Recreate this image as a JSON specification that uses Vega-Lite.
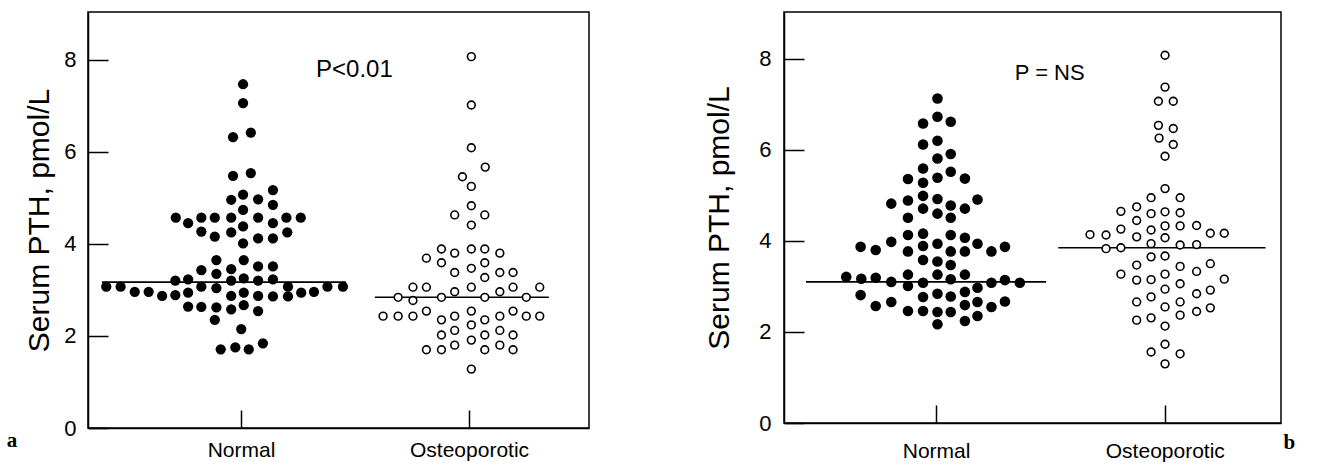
{
  "$schema": "https://vega.github.io/schema/vega-lite/v6.json",
  "background": "white",
  "padding": {"left": 6, "top": 11, "right": 0, "bottom": 0},
  "bounds": "flush",
  "spacing": 195,
  "config": {
    "font": "Liberation Sans",
    "view": {"stroke": "black", "strokeWidth": 1.5},
    "axis": {
      "grid": false,
      "domainColor": "black",
      "domainWidth": 1.5,
      "tickColor": "black",
      "tickWidth": 1.5,
      "labelColor": "black",
      "labelFont": "Liberation Sans",
      "labelFontSize": 22,
      "titleColor": "black",
      "titleFont": "Liberation Sans",
      "titleFontWeight": "normal",
      "titleFontSize": 30
    }
  },
  "datasets": {
    "aN": [
      {"pos":1.009,"pth":7.47},{"pos":1.009,"pth":7.06},{"pos":0.965,"pth":6.32},{"pos":1.043,"pth":6.42},
      {"pos":0.965,"pth":5.48},{"pos":1.043,"pth":5.54},{"pos":1.140,"pth":5.17},{"pos":1.009,"pth":5.07},
      {"pos":0.957,"pth":4.96},{"pos":1.075,"pth":4.97},{"pos":1.140,"pth":4.85},{"pos":1.009,"pth":4.74},
      {"pos":0.714,"pth":4.57},{"pos":0.768,"pth":4.45},{"pos":0.826,"pth":4.57},{"pos":0.885,"pth":4.57},
      {"pos":0.957,"pth":4.57},{"pos":1.075,"pth":4.57},{"pos":1.140,"pth":4.45},{"pos":1.199,"pth":4.57},
      {"pos":1.262,"pth":4.57},{"pos":1.009,"pth":4.38},{"pos":0.826,"pth":4.27},{"pos":0.885,"pth":4.16},
      {"pos":0.957,"pth":4.25},{"pos":1.075,"pth":4.12},{"pos":1.140,"pth":4.12},{"pos":1.203,"pth":4.25},
      {"pos":1.009,"pth":4.01},{"pos":0.892,"pth":3.65},{"pos":1.012,"pth":3.65},{"pos":0.826,"pth":3.43},
      {"pos":0.957,"pth":3.45},{"pos":1.075,"pth":3.51},{"pos":1.140,"pth":3.51},{"pos":0.892,"pth":3.35},
      {"pos":0.712,"pth":3.20},{"pos":0.768,"pth":3.23},{"pos":0.957,"pth":3.20},{"pos":1.012,"pth":3.25},
      {"pos":1.075,"pth":3.20},{"pos":1.140,"pth":3.23},{"pos":0.409,"pth":3.07},{"pos":0.472,"pth":3.07},
      {"pos":0.534,"pth":2.96},{"pos":0.595,"pth":2.96},{"pos":0.654,"pth":2.87},{"pos":0.712,"pth":2.89},
      {"pos":0.768,"pth":2.94},{"pos":0.826,"pth":3.07},{"pos":0.892,"pth":3.04},{"pos":1.206,"pth":3.07},
      {"pos":1.264,"pth":2.94},{"pos":1.320,"pth":2.96},{"pos":1.379,"pth":3.07},{"pos":1.447,"pth":3.07},
      {"pos":0.957,"pth":2.87},{"pos":1.012,"pth":2.94},{"pos":1.075,"pth":2.87},{"pos":1.140,"pth":2.86},
      {"pos":1.206,"pth":2.86},{"pos":0.768,"pth":2.64},{"pos":0.826,"pth":2.63},{"pos":0.892,"pth":2.62},
      {"pos":0.957,"pth":2.58},{"pos":1.012,"pth":2.67},{"pos":1.075,"pth":2.54},{"pos":0.885,"pth":2.35},
      {"pos":1.001,"pth":2.15},{"pos":0.911,"pth":1.71},{"pos":0.975,"pth":1.75},{"pos":1.034,"pth":1.71},
      {"pos":1.096,"pth":1.84}
    ],
    "aO": [
      {"pos":2.010,"pth":8.07},{"pos":2.010,"pth":7.02},{"pos":2.010,"pth":6.09},{"pos":2.071,"pth":5.67},
      {"pos":1.971,"pth":5.46},{"pos":2.010,"pth":5.25},{"pos":2.010,"pth":4.83},{"pos":1.937,"pth":4.63},
      {"pos":2.069,"pth":4.63},{"pos":2.010,"pth":4.41},{"pos":1.879,"pth":3.89},{"pos":1.937,"pth":3.80},
      {"pos":2.010,"pth":3.89},{"pos":2.069,"pth":3.89},{"pos":2.135,"pth":3.80},{"pos":1.813,"pth":3.69},
      {"pos":1.879,"pth":3.59},{"pos":2.069,"pth":3.59},{"pos":1.937,"pth":3.38},{"pos":2.010,"pth":3.47},
      {"pos":2.069,"pth":3.27},{"pos":2.135,"pth":3.38},{"pos":2.193,"pth":3.38},{"pos":1.754,"pth":3.06},
      {"pos":1.813,"pth":3.06},{"pos":1.937,"pth":2.96},{"pos":2.010,"pth":3.06},{"pos":2.135,"pth":2.96},
      {"pos":2.193,"pth":3.06},{"pos":2.310,"pth":3.06},{"pos":1.689,"pth":2.84},{"pos":1.879,"pth":2.84},
      {"pos":2.069,"pth":2.84},{"pos":2.251,"pth":2.84},{"pos":1.754,"pth":2.77},{"pos":1.623,"pth":2.43},
      {"pos":1.689,"pth":2.43},{"pos":1.754,"pth":2.43},{"pos":1.813,"pth":2.54},{"pos":1.879,"pth":2.35},
      {"pos":1.937,"pth":2.43},{"pos":2.010,"pth":2.54},{"pos":2.069,"pth":2.35},{"pos":2.135,"pth":2.43},
      {"pos":2.193,"pth":2.54},{"pos":2.251,"pth":2.43},{"pos":2.310,"pth":2.43},{"pos":1.879,"pth":2.02},
      {"pos":1.937,"pth":2.12},{"pos":2.010,"pth":2.24},{"pos":2.069,"pth":2.02},{"pos":2.135,"pth":2.12},
      {"pos":2.193,"pth":2.02},{"pos":1.813,"pth":1.70},{"pos":1.879,"pth":1.70},{"pos":1.937,"pth":1.80},
      {"pos":2.010,"pth":1.91},{"pos":2.069,"pth":1.70},{"pos":2.135,"pth":1.80},{"pos":2.193,"pth":1.70},
      {"pos":2.010,"pth":1.28}
    ],
    "aMed": [
      {"pos":0.39,"pos2":1.46,"pth":3.17},
      {"pos":1.587,"pos2":2.35,"pth":2.84}
    ],
    "aTxt": [
      {"pos":1.329,"pth":7.78,"label":"P<0.01"}
    ],
    "aLet": [
      {"pos":-0.004,"pth":-0.41,"label":"a"}
    ],
    "bN": [
      {"pos":1.006,"pth":7.13},{"pos":0.943,"pth":6.58},{"pos":1.006,"pth":6.73},{"pos":1.064,"pth":6.62},
      {"pos":0.943,"pth":6.12},{"pos":1.006,"pth":6.20},{"pos":1.006,"pth":5.81},{"pos":1.064,"pth":5.91},
      {"pos":0.943,"pth":5.59},{"pos":1.064,"pth":5.52},{"pos":0.877,"pth":5.36},{"pos":0.943,"pth":5.28},
      {"pos":1.006,"pth":5.39},{"pos":1.126,"pth":5.37},{"pos":0.804,"pth":4.82},{"pos":0.877,"pth":4.89},
      {"pos":0.943,"pth":4.99},{"pos":1.006,"pth":4.92},{"pos":1.064,"pth":4.78},{"pos":1.126,"pth":4.71},
      {"pos":1.181,"pth":4.91},{"pos":0.943,"pth":4.71},{"pos":0.877,"pth":4.51},{"pos":1.006,"pth":4.60},
      {"pos":1.064,"pth":4.51},{"pos":0.877,"pth":4.13},{"pos":0.943,"pth":4.16},{"pos":1.006,"pth":3.94},
      {"pos":1.064,"pth":4.13},{"pos":1.126,"pth":4.07},{"pos":1.181,"pth":3.94},{"pos":0.804,"pth":3.98},
      {"pos":0.670,"pth":3.87},{"pos":0.736,"pth":3.80},{"pos":1.242,"pth":3.77},{"pos":1.301,"pth":3.87},
      {"pos":0.877,"pth":3.77},{"pos":0.943,"pth":3.89},{"pos":1.064,"pth":3.77},{"pos":1.126,"pth":3.77},
      {"pos":0.943,"pth":3.58},{"pos":1.006,"pth":3.55},{"pos":1.064,"pth":3.47},{"pos":0.877,"pth":3.26},
      {"pos":1.006,"pth":3.26},{"pos":1.126,"pth":3.26},{"pos":0.607,"pth":3.21},{"pos":0.673,"pth":3.17},
      {"pos":0.736,"pth":3.19},{"pos":0.804,"pth":3.10},{"pos":0.943,"pth":3.08},{"pos":1.064,"pth":3.16},
      {"pos":1.242,"pth":3.08},{"pos":1.301,"pth":3.14},{"pos":0.877,"pth":3.01},{"pos":1.181,"pth":2.97},
      {"pos":1.006,"pth":2.84},{"pos":1.126,"pth":2.88},{"pos":0.670,"pth":2.81},{"pos":0.943,"pth":2.77},
      {"pos":1.064,"pth":2.78},{"pos":1.301,"pth":2.67},{"pos":1.181,"pth":2.66},{"pos":0.736,"pth":2.57},
      {"pos":0.804,"pth":2.66},{"pos":1.126,"pth":2.59},{"pos":1.242,"pth":2.55},{"pos":0.877,"pth":2.46},
      {"pos":0.943,"pth":2.46},{"pos":1.006,"pth":2.44},{"pos":1.064,"pth":2.44},{"pos":1.181,"pth":2.35},
      {"pos":1.126,"pth":2.24},{"pos":1.006,"pth":2.17},{"pos":1.366,"pth":3.08}
    ],
    "bO": [
      {"pos":2.001,"pth":8.08},{"pos":2.001,"pth":7.38},{"pos":1.972,"pth":7.07},{"pos":2.037,"pth":7.07},
      {"pos":1.972,"pth":6.54},{"pos":2.037,"pth":6.47},{"pos":1.975,"pth":6.26},{"pos":2.037,"pth":6.12},
      {"pos":2.001,"pth":5.86},{"pos":2.001,"pth":5.15},{"pos":1.940,"pth":4.95},{"pos":2.067,"pth":4.95},
      {"pos":1.808,"pth":4.65},{"pos":1.877,"pth":4.75},{"pos":1.940,"pth":4.60},{"pos":2.001,"pth":4.64},
      {"pos":2.067,"pth":4.62},{"pos":1.877,"pth":4.45},{"pos":2.001,"pth":4.33},{"pos":2.067,"pth":4.33},
      {"pos":2.139,"pth":4.34},{"pos":1.808,"pth":4.26},{"pos":1.940,"pth":4.24},{"pos":1.673,"pth":4.14},
      {"pos":1.743,"pth":4.13},{"pos":1.877,"pth":4.09},{"pos":2.001,"pth":4.07},{"pos":2.199,"pth":4.17},
      {"pos":2.260,"pth":4.17},{"pos":1.940,"pth":3.94},{"pos":2.067,"pth":3.91},{"pos":2.139,"pth":3.92},
      {"pos":1.743,"pth":3.83},{"pos":1.808,"pth":3.85},{"pos":1.940,"pth":3.65},{"pos":2.001,"pth":3.67},
      {"pos":1.877,"pth":3.47},{"pos":2.067,"pth":3.44},{"pos":2.139,"pth":3.33},{"pos":2.199,"pth":3.50},
      {"pos":1.808,"pth":3.27},{"pos":1.877,"pth":3.14},{"pos":1.940,"pth":3.15},{"pos":2.001,"pth":3.27},
      {"pos":2.001,"pth":2.94},{"pos":2.067,"pth":3.06},{"pos":2.139,"pth":2.84},{"pos":2.199,"pth":2.92},
      {"pos":2.260,"pth":3.16},{"pos":1.877,"pth":2.66},{"pos":1.940,"pth":2.77},{"pos":2.001,"pth":2.55},
      {"pos":2.067,"pth":2.66},{"pos":2.139,"pth":2.45},{"pos":2.199,"pth":2.53},{"pos":1.877,"pth":2.26},
      {"pos":1.940,"pth":2.31},{"pos":2.001,"pth":2.13},{"pos":2.067,"pth":2.37},{"pos":2.001,"pth":1.73},
      {"pos":1.940,"pth":1.56},{"pos":2.067,"pth":1.52},{"pos":2.001,"pth":1.30}
    ],
    "bMed": [
      {"pos":0.431,"pos2":1.481,"pth":3.10},
      {"pos":1.534,"pos2":2.440,"pth":3.85}
    ],
    "bTxt": [
      {"pos":1.344,"pth":7.68,"label":"P = NS"}
    ],
    "bLet": [
      {"pos":2.545,"pth":-0.57,"label":"b"}
    ]
  },
  "hconcat": [
    {
      "width": 501,
      "height": 416,
      "encoding": {
        "x": {"field": "pos", "type": "quantitative",
          "scale": {"domain": [0.329, 2.526], "nice": false, "zero": false},
          "axis": {"values": [1, 2], "labelExpr": "datum.value == 1 ? 'Normal' : 'Osteoporotic'", "tickSize": -18, "labelPadding": 29, "labelFontSize": 21, "title": null}},
        "y": {"field": "pth", "type": "quantitative",
          "scale": {"domain": [0, 9.04], "nice": false},
          "axis": {"values": [0, 2, 4, 6, 8], "tickSize": -20, "labelPadding": 32, "title": "Serum PTH, pmol/L", "titlePadding": 9}}
      },
      "layer": [
        {"data": {"name": "aMed"}, "mark": {"type": "rule", "color": "black", "strokeWidth": 1.6},
         "encoding": {"x2": {"field": "pos2"}}},
        {"data": {"name": "aN"}, "mark": {"type": "circle", "size": 105, "color": "black", "opacity": 1}},
        {"data": {"name": "aO"}, "mark": {"type": "point", "shape": "circle", "size": 60, "fill": "white", "stroke": "black", "strokeWidth": 1.6, "opacity": 1}},
        {"data": {"name": "aTxt"}, "mark": {"type": "text", "align": "left", "baseline": "middle", "fontSize": 24, "font": "Liberation Sans", "color": "black"},
         "encoding": {"text": {"field": "label"}}},
        {"data": {"name": "aLet"}, "mark": {"type": "text", "align": "center", "baseline": "alphabetic", "fontSize": 21, "font": "Liberation Serif", "fontWeight": "bold", "color": "black"},
         "encoding": {"text": {"field": "label"}}}
      ]
    },
    {
      "width": 497,
      "height": 411,
      "encoding": {
        "x": {"field": "pos", "type": "quantitative",
          "scale": {"domain": [0.335, 2.508], "nice": false, "zero": false},
          "axis": {"values": [1, 2], "labelExpr": "datum.value == 1 ? 'Normal' : 'Osteoporotic'", "tickSize": -18, "labelPadding": 35, "labelFontSize": 21, "title": null}},
        "y": {"field": "pth", "type": "quantitative",
          "scale": {"domain": [0, 9.03], "nice": false},
          "axis": {"values": [0, 2, 4, 6, 8], "tickSize": -20, "labelPadding": 33, "title": "Serum PTH, pmol/L", "titlePadding": 24}}
      },
      "layer": [
        {"data": {"name": "bMed"}, "mark": {"type": "rule", "color": "black", "strokeWidth": 1.6},
         "encoding": {"x2": {"field": "pos2"}}},
        {"data": {"name": "bN"}, "mark": {"type": "circle", "size": 112, "color": "black", "opacity": 1}},
        {"data": {"name": "bO"}, "mark": {"type": "point", "shape": "circle", "size": 60, "fill": "white", "stroke": "black", "strokeWidth": 1.6, "opacity": 1}},
        {"data": {"name": "bTxt"}, "mark": {"type": "text", "align": "left", "baseline": "middle", "fontSize": 22, "font": "Liberation Sans", "color": "black"},
         "encoding": {"text": {"field": "label"}}},
        {"data": {"name": "bLet"}, "mark": {"type": "text", "align": "center", "baseline": "alphabetic", "fontSize": 21, "font": "Liberation Serif", "fontWeight": "bold", "color": "black"},
         "encoding": {"text": {"field": "label"}}}
      ]
    }
  ]
}
